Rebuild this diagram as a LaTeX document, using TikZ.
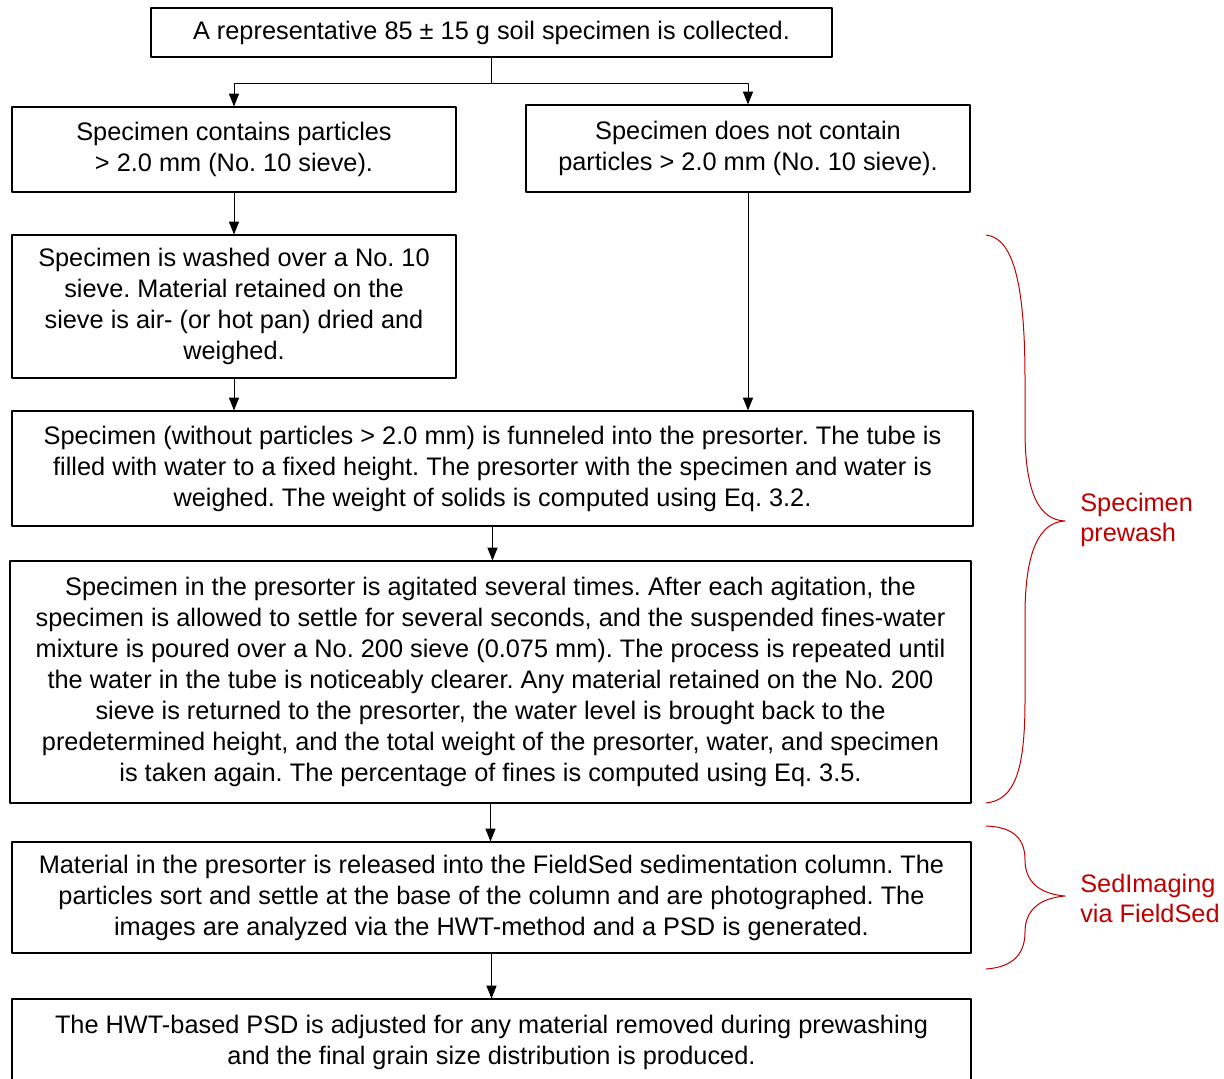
\documentclass[tikz,border=0pt]{standalone}
\usepackage{fontspec}
\setmainfont{Liberation Sans}
\usetikzlibrary{arrows.meta}
\definecolor{bracered}{RGB}{192,0,0}
\frenchspacing
\begin{document}
\begin{tikzpicture}[x=.75pt, y=-.75pt, line join=round, >={Triangle[length=9.5pt,width=7.5pt]},
		stepbox/.style={draw, line width=.9pt, align=center, inner sep=0pt, font=\fontsize{19}{23.25}\selectfont},
		link/.style={->, line width=.7pt},
		redbrace/.style={bracered, line width=.75pt},
		bracelabel/.style={bracered, anchor=west, align=left, inner sep=0pt, font=\fontsize{19}{22.5}\selectfont}]
		\useasboundingbox(0,0)rectangle(1224,1078);
		\clip(0,0)rectangle(1224,1078);
		% boxes
		\node[stepbox, minimum width=510.75pt, minimum height=36.75pt](collect) at (491.5,32.5){A representative 85 ± 15 g soil specimen is collected.};
		\node[stepbox, minimum width=333pt, minimum height=63.75pt](coarse) at (234,149.5){Specimen contains particles\\> 2.0 mm (No. 10 sieve).};
		\node[stepbox, minimum width=333pt, minimum height=65.25pt](fine) at (748,148.5){Specimen does not contain\\particles > 2.0 mm (No. 10 sieve).};
		\node[stepbox, minimum width=333pt, minimum height=107.25pt](wash) at (234,306.5){Specimen is washed over a No. 10\\sieve. Material retained on the\\sieve is air- (or hot pan) dried and\\weighed.};
		\node[stepbox, minimum width=720.75pt, minimum height=86.25pt](funnel) at (492.5,468.5){Specimen (without particles > 2.0 mm) is funneled into the presorter. The tube is\\filled with water to a fixed height. The presorter with the specimen and water is\\weighed. The weight of solids is computed using Eq. 3.2.};
		\node[stepbox, minimum width=720.75pt, minimum height=181.5pt](agitate) at (490.5,682){Specimen in the presorter is agitated several times. After each agitation, the\\specimen is allowed to settle for several seconds, and the suspended fines-water\\mixture is poured over a No. 200 sieve (0.075 mm). The process is repeated until\\the water in the tube is noticeably clearer. Any material retained on the No. 200\\sieve is returned to the presorter, the water level is brought back to the\\predetermined height, and the total weight of the presorter, water, and specimen\\is taken again. The percentage of fines is computed using Eq. 3.5.};
		\node[stepbox, minimum width=719.25pt, minimum height=83.25pt](sedcol) at (491.5,897.5){Material in the presorter is released into the FieldSed sedimentation column. The\\particles sort and settle at the base of the column and are photographed. The\\images are analyzed via the HWT-method and a PSD is generated.};
		\node[stepbox, minimum width=719.25pt, minimum height=64.5pt](final) at (491.5,1042){The HWT-based PSD is adjusted for any material removed during prewashing\\and the final grain size distribution is produced.};
		
		% arrows
		\coordinate (split) at (491.5,83);
		\draw[line width=.7pt](collect.south)--(split);
		\draw[link](split)-|(coarse.north);
		\draw[link](split)-|(fine.north);
		\draw[link](coarse.south)--(wash.north);
		\draw[link](wash.south)--(wash.south|-funnel.north);
		\draw[link](fine.south)--(fine.south|-funnel.north);
		\draw[link](funnel.south)--(funnel.south|-agitate.north);
		\draw[link](agitate.south)--(agitate.south|-sedcol.north);
		\draw[link](sedcol.south)--(sedcol.south|-final.north);
		
		% braces
		\draw[redbrace](986,235)..controls(1015,238)and(1025,290)..(1025,380)--(1025,430)
			..controls(1025,495)and(1040,520)..(1065,521)
			..controls(1040,522)and(1025,550)..(1025,615)--(1025,700)
			..controls(1025,770)and(1015,800)..(986,803);
		\node[bracelabel](prewash) at (1080,520){Specimen\\prewash};
		\draw[redbrace](986,826)..controls(1015,827)and(1025,840)..(1025,860)
			..controls(1025,882)and(1040,894)..(1065,896)
			..controls(1040,898)and(1025,910)..(1025,932)
			..controls(1025,952)and(1015,967)..(986,969);
		\node[bracelabel](imaging) at (1080,898){SedImaging\\via FieldSed};
		
	\end{tikzpicture}
\end{document}
